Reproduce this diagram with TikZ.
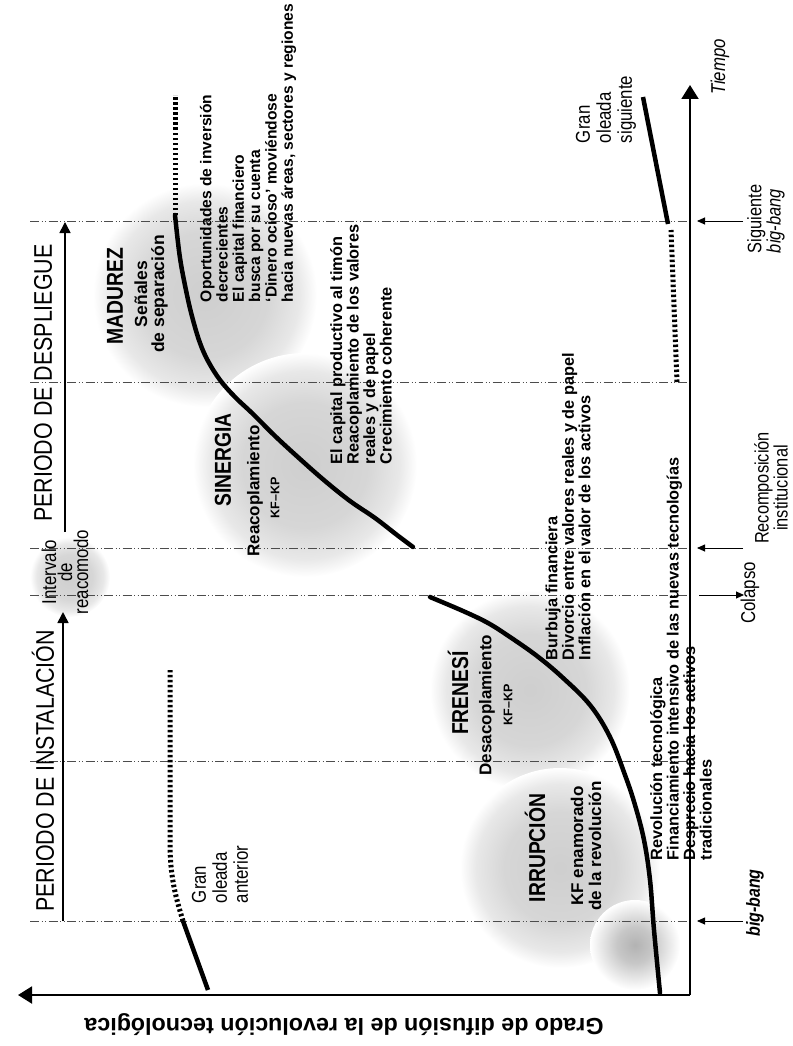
\documentclass[tikz,border=0pt]{standalone}
\usepackage{fontspec}
\setmainfont{Liberation Sans}
\newfontfamily\nar{Liberation Sans}[FakeStretch=0.84]
\usetikzlibrary{arrows.meta}
\newcommand\fsz[2]{\fontsize{#1}{#2}\selectfont}
\pgfdeclareradialshading{blobshade}{\pgfpoint{0bp}{0bp}}{color(0bp)=(black!19); color(14bp)=(black!16); color(21bp)=(black!9); color(25bp)=(white); color(50bp)=(white)}
\pgfdeclareradialshading{spotshade}{\pgfpoint{0bp}{0bp}}{color(0bp)=(black!30); color(10bp)=(black!22); color(25bp)=(white); color(50bp)=(white)}
\begin{document}
\begin{tikzpicture}[x=1pt,y=-1pt,
  every node/.style={inner sep=0pt,outer sep=0pt},
  rot/.style={rotate=90},
  timeline/.style={line width=0.7pt,black!70,dash pattern=on 9pt off 2.5pt on 1pt off 2.5pt on 1pt off 2.5pt},
  wave/.style={line width=4.5pt,line cap=round},
  wavedot/.style={line width=5pt,dash pattern=on 2.5pt off 2.5pt},
  axisline/.style={line width=2pt,-{Triangle[length=14pt,width=17pt]}},
  period/.style={line width=1.6pt,-{Triangle[length=11pt,width=11pt]}},
  marker/.style={line width=0.9pt,-{Triangle[length=8pt,width=7pt]}},
  blob/.style={shading=blobshade},
  spot/.style={shading=spotshade},
  body/.style={rot,font=\bfseries\fsz{16.3}{16.5},align=left,anchor=west},
  head/.style={rot,font=\nar\bfseries\fsz{23}{23}},
  plain/.style={rot,font=\nar\fsz{20}{21}}
]
\useasboundingbox (0,0) rectangle (792,1046);

% shaded blobs
\shade[blob] (205,295) circle[radius=112];
\shade[blob] (305,465) circle[radius=112];
\shade[blob] (530,690) circle[radius=100];
\shade[blob] (560,868) circle[radius=100];
\shade[spot] (635,945) circle[radius=45];
\shade[blob] (70,577) circle[radius=40];

% time marker lines
\foreach \n/\yy in {bb/921,ii/761,co/595,re/548,sm/382,sb/221}{
  \coordinate (\n L) at (30,\yy);
  \coordinate (\n R) at (690,\yy);
  \draw[timeline] (\n L) -- (\n R);
}

% axes
\coordinate (O) at (690,995);
\coordinate (T) at (690,85);
\coordinate (G) at (18,995);
\draw[axisline] (O) -- (T);
\draw[axisline] (O) -- (G);

% period arrows
\coordinate (pi1) at (63,921);
\coordinate (pi2) at (63,612);
\coordinate (pd1) at (65,532);
\coordinate (pd2) at (65,222);
\draw[period] (pi1) -- (pi2);
\draw[period] (pd1) -- (pd2);

% marker arrows
\coordinate (mbb1) at (743,921); \coordinate (mbb2) at (697,921);
\coordinate (mco1) at (699,595); \coordinate (mco2) at (744,595);
\coordinate (mre1) at (743,548); \coordinate (mre2) at (697,548);
\coordinate (msb1) at (743,221); \coordinate (msb2) at (697,221);
\draw[marker] (mbb1) -- (mbb2);
\draw[marker] (mco1) -- (mco2);
\draw[marker] (mre1) -- (mre2);
\draw[marker] (msb1) -- (msb2);

% previous wave
\coordinate (pw0) at (208,990);
\coordinate (pw1) at (183,921);
\draw[wave,line cap=butt] (pw0) -- (pw1);
\draw[wavedot] (pw1) .. controls (175,895) and (171,878) .. (170,850) -- (170,670);

% main curve
\draw[wave] plot[smooth,tension=0.6] coordinates {(660,993) (654,930) (650,880) (644,840) (635,805) (625,775) (610,737) (590,705) (562,677) (537,656) (510,637) (488,623) (463,611) (430,597)};

% synergy / maturity curve
\draw[wave] plot[smooth,tension=0.6] coordinates {(413,547) (397,535) (375,518) (350,501) (325,481) (300,459) (275,436) (253,414) (235,397) (220,380) (208,361) (200,343) (193,320) (187,295) (180,258) (175,215)};
\coordinate (mt1) at (175,215);
\coordinate (mt2) at (175,95);
\draw[wavedot] (mt1) -- (mt2);

% next wave
\coordinate (nw0) at (677,382);
\coordinate (nw1) at (671,230);
\coordinate (nw2) at (668,224);
\coordinate (nw3) at (643,97);
\draw[wavedot] (nw0) -- (nw1);
\draw[wave,line cap=butt] (nw2) -- (nw3);

% period titles
\node[rot,font=\nar\fsz{25.5}{25}] (pinst) at (43,771) {PERIODO DE INSTALACIÓN};
\node[rot,font=\nar\fsz{25.5}{25}] (pdesp) at (43,383) {PERIODO DE DESPLIEGUE};
\node[rot,font=\nar\fsz{20}{16},align=center] (interv) at (65,572) {Intervalo\\de\\reacomodo};

% phase headings
\node[head] (irr) at (535,848) {IRRUPCIÓN};
\node[head] (fre) at (458,693) {FRENESÍ};
\node[head] (sin) at (223,460) {SINERGIA};
\node[head] (mad) at (115,296) {MADUREZ};

\node[rot,font=\bfseries\fsz{17}{18},align=center] (kfe) at (586,846) {KF enamorado\\de la revolución};
\node[rot,font=\bfseries\fsz{17}{17}] (desa) at (487,705) {Desacoplamiento};
\node[rot,font=\bfseries\fsz{12.5}{13}] (kf1) at (508,705) {KF--KP};
\node[rot,font=\bfseries\fsz{17}{17}] (reac) at (255,491) {Reacoplamiento};
\node[rot,font=\bfseries\fsz{12.5}{13}] (kf2) at (275,498) {KF--KP};
\node[rot,font=\bfseries\fsz{17.5}{17},align=center] (sen) at (151,294) {Señales\\de separación};

% body blocks
\node[body] (rev) at (681,860) {Revolución tecnológica\\Financiamiento intensivo de las nuevas tecnologías\\Desprecio hacia los activos\\tradicionales};
\node[body] (bur) at (568,660) {Burbuja financiera\\Divorcio entre valores reales y de papel\\Inflación en el valor de los activos};
\node[body] (cap) at (361,464) {El capital productivo al timón\\Reacoplamiento de los valores\\reales y de papel\\Crecimiento coherente};
\node[body,font=\bfseries\fsz{15.6}{16.3}] (opo) at (248,302) {Oportunidades de inversión\\decrecientes\\El capital financiero\\busca por su cuenta\\`Dinero ocioso' moviéndose\\hacia nuevas áreas, sectores y regiones};

% wave labels
\node[plain,align=left,anchor=west] (gant) at (220,903) {Gran\\oleada\\anterior};
\node[plain,align=left,anchor=west] (gsig) at (606,143) {Gran\\oleada\\siguiente};

% axis labels
\node[rot,font=\nar\itshape\fsz{20}{20}] (tie) at (720,67) {Tiempo};
\node[rotate=180,font=\bfseries\fsz{23.3}{24}] (grado) at (344,1025) {Grado de difusión de la revolución tecnológica};

% marker labels
\node[plain] (col) at (750,593) {Colapso};
\node[plain,align=center,font=\nar\fsz{19.5}{17}] (rec) at (771,488) {Recomposición\\institucional};
\node[rot,font=\nar\bfseries\itshape\fsz{19}{19}] (bb) at (755,903) {big-bang};
\node[plain,align=left,anchor=west,font=\nar\fsz{19.5}{16.5}] (sbb) at (766,253) {Siguiente\\\itshape big-bang};
\end{tikzpicture}
\end{document}
